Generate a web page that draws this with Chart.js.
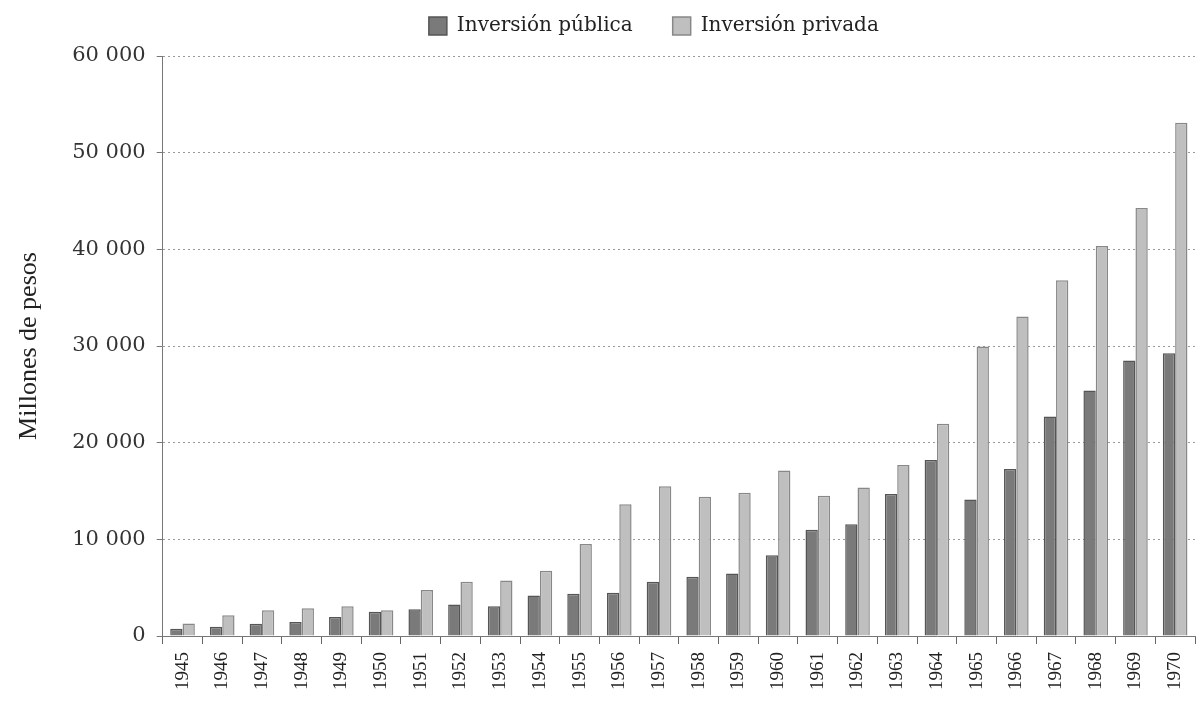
<!DOCTYPE html>
<html lang="es">
<head>
<meta charset="utf-8">
<title>Inversión pública y privada, 1945-1970</title>
<script src="https://cdn.jsdelivr.net/npm/chart.js@4"></script>
<style>
  html, body { margin: 0; padding: 0; background: #fff; }
  #wrap { width: 1198px; height: 702px; }
</style>
</head>
<body>
<div id="wrap"><canvas id="myChart"></canvas></div>
<script>
// Años y montos (millones de pesos)
const years = ["1945", "1946", "1947", "1948", "1949", "1950", "1951", "1952", "1953",
  "1954", "1955", "1956", "1957", "1958", "1959", "1960", "1961", "1962", "1963",
  "1964", "1965", "1966", "1967", "1968", "1969", "1970"];

const publica = [760, 960, 1280, 1450, 1970, 2520, 2760, 3250, 3080, 4180, 4380,
  4470, 5600, 6120, 6460, 8360, 11000, 11570, 14680, 18200, 14110, 17270, 22700,
  25390, 28500, 29250];

const privada = [1300, 2140, 2660, 2870, 3080, 2660, 4770, 5600, 5730, 6740, 9530,
  13640, 15500, 14400, 14820, 17130, 14500, 15370, 17690, 21950, 29950, 33050,
  36790, 40340, 44280, 53090];

const yTicks = [0, 10000, 20000, 30000, 40000, 50000, 60000];

// separador de miles con espacio
function conEspacios(v) {
  return String(v).replace(/\B(?=(\d{3})+(?!\d))/g, " ");
}

// deja más aire entre la leyenda y el área del gráfico
const legendMargin = {
  id: "legendMargin",
  beforeInit(chart) {
    if (!chart.legend) return;
    const fit = chart.legend.fit;
    chart.legend.fit = function () {
      fit.bind(chart.legend)();
      this.height += 10;
    };
  },
};

new Chart("myChart", {
  type: "bar",
  data: {
    labels: years,
    datasets: [
      {
        label: "Inversión pública",
        data: publica,
        backgroundColor: "#7a7a7a",
        borderColor: "#555555",
        borderWidth: 1.5,
        categoryPercentage: 0.62,
        barPercentage: 1.0,
      },
      {
        label: "Inversión privada",
        data: privada,
        backgroundColor: "#bfbfbf",
        borderColor: "#888888",
        borderWidth: 1.5,
        categoryPercentage: 0.62,
        barPercentage: 1.0,
      },
    ],
  },
  options: {
    responsive: true,
    maintainAspectRatio: false,
    animation: false,
    layout: {
      padding: { top: 6, right: 3, left: 14, bottom: 4 },
    },
    scales: {
      x: {
        afterFit: (scale) => {
          // las etiquetas verticales no necesitan margen lateral
          scale.paddingLeft = 0;
          scale.paddingRight = 0;
        },
        grid: {
          display: true,
          drawOnChartArea: false,
          offset: true,
          tickLength: 8,
          color: "#666",
        },
        border: { display: true, color: "#777", width: 1 },
        ticks: {
          maxRotation: 90,
          minRotation: 90,
          autoSkip: false,
          padding: 8,
          color: "#222",
          font: { family: "Liberation Serif", size: 19 },
        },
      },
      y: {
        min: 0,
        max: 60000,
        afterBuildTicks: (axis) => {
          axis.ticks = yTicks.map((v) => ({ value: v }));
        },
        grid: {
          color: "#9a9a9a",
          lineWidth: 1,
          tickLength: 6,
          tickColor: "#777",
          tickBorderDash: [],
        },
        border: { display: true, color: "#777", width: 1, dash: [2, 3] },
        ticks: {
          padding: 11,
          color: "#333",
          font: { family: "DejaVu Serif", size: 21 },
          callback: (v) => conEspacios(v),
        },
        title: {
          display: true,
          text: "Millones de pesos",
          color: "#222",
          font: { family: "Liberation Serif", size: 26 },
          padding: { top: 0, bottom: 16 },
        },
      },
    },
    plugins: {
      tooltip: { enabled: false },
      legend: {
        display: true,
        position: "top",
        fullSize: false,
        labels: {
          boxWidth: 18,
          boxHeight: 18,
          padding: 10,
          color: "#222",
          font: { family: "DejaVu Serif", size: 20 },
          generateLabels: (chart) => {
            const items = Chart.defaults.plugins.legend.labels.generateLabels(chart);
            items[0].text += "\u2003\u2002";
            items[1].text += "\u2003\u2003\u2002";
            return items;
          },
        },
      },
    },
  },
  plugins: [legendMargin],
});
</script>
</body>
</html>
